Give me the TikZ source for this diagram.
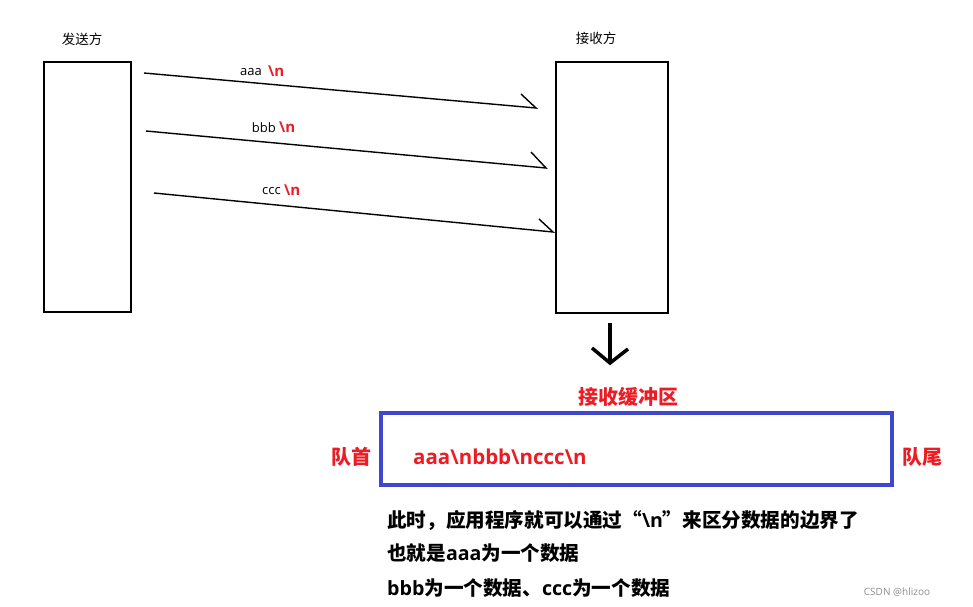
\documentclass[tikz,border=0pt]{standalone}
\usepackage{fontspec}
\setmainfont{Noto Sans CJK SC}
\newfontfamily\lat{Open Sans}
\definecolor{pred}{HTML}{ED1C24}
\definecolor{pblue}{HTML}{3F48CC}
\newcommand{\latb}[1]{{\lat\bfseries #1}}
\begin{document}
\begin{tikzpicture}[x=1pt,y=-1pt,
  box/.style={draw=black,line width=1.5pt,inner sep=0pt},
  thin/.style={line width=1.4pt,black},
  lbl/.style={inner sep=0pt,font=\fontsize{13.5}{15}\selectfont},
  lbla/.style={inner sep=0pt,font=\lat\fontsize{13}{15}\selectfont},
  redn/.style={inner sep=0pt,text=pred,font=\lat\bfseries\fontsize{15}{17}\selectfont},
  big/.style={inner sep=0pt,text=pred,font=\bfseries\fontsize{20}{22}\selectfont},
  body/.style={inner sep=0pt,anchor=west,font=\bfseries\fontsize{19.6}{22}\selectfont}]
\useasboundingbox (0,0) rectangle (973,606);
% boxes
\draw[box] (44,62) rectangle (131,312);
\draw[box] (556,62) rectangle (668,313);
\node[lbl] (snd) at (82,39) {发送方};
\node[lbl] (rcv) at (596,38) {接收方};
% arrows
\coordinate (a1s) at (144,73); \coordinate (a1e) at (536,108); \coordinate (a1b) at (521,94);
\coordinate (a2s) at (146,131); \coordinate (a2e) at (546,168); \coordinate (a2b) at (531,152);
\coordinate (a3s) at (154,193); \coordinate (a3e) at (553,232); \coordinate (a3b) at (539,219);
\draw[thin] (a1s) -- (a1e) -- (a1b);
\draw[thin] (a2s) -- (a2e) -- (a2b);
\draw[thin] (a3s) -- (a3e) -- (a3b);
\node[lbla,anchor=base east] (la) at (262,75) {aaa};
\node[redn,anchor=base west] (na) at (268,76) {\textbackslash n};
\node[lbla,anchor=base east] (lb) at (276,132) {bbb};
\node[redn,anchor=base west] (nb) at (279,132) {\textbackslash n};
\node[lbla,anchor=base east] (lc) at (281,194) {ccc};
\node[redn,anchor=base west] (nc) at (284,195) {\textbackslash n};
% down arrow
\coordinate (d1) at (610,323); \coordinate (d2) at (610,363);
\draw[line width=3.5pt] (d1) -- (d2);
\draw[line width=3.5pt,line join=miter] (592,348) -- (d2) -- (628,349);
% buffer
\node[big] (buf) at (628,397) {接收缓冲区};
\draw[draw=pblue,line width=4pt] (381,413) rectangle (892,485);
\node[big] (head) at (351,457) {队首};
\node[big] (tail) at (922,457) {队尾};
\node[big,anchor=west,font=\lat\bfseries\fontsize{20.5}{22}\selectfont] (data) at (413,457) {aaa\textbackslash nbbb\textbackslash nccc\textbackslash n};
% text
\node[body] (t1) at (387,520) {此时，应用程序就可以通过“\latb{\textbackslash n}”来区分数据的边界了};
\node[body] (t2) at (387,553) {也就是\latb{aaa}为一个数据};
\node[body] (t3) at (387,588) {\latb{bbb}为一个数据、\latb{ccc}为一个数据};
\node[inner sep=0pt,text=black!45,font=\lat\fontsize{10}{12}\selectfont] (wm) at (897,592) {CSDN @hlizoo};
\end{tikzpicture}
\end{document}
